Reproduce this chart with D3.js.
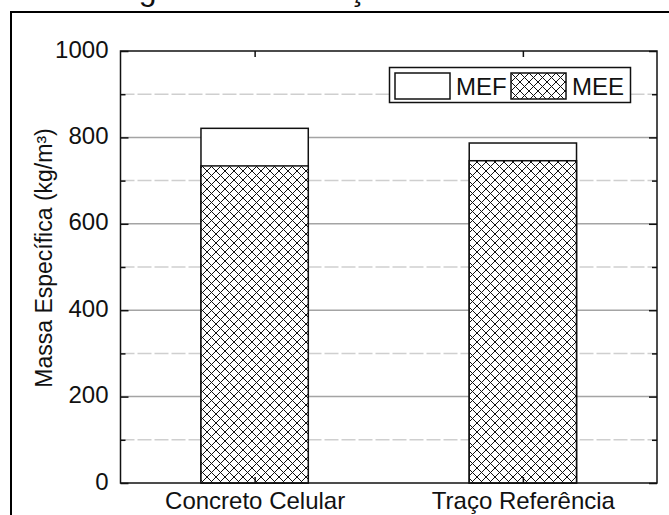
<!DOCTYPE html>
<html>
<head>
<meta charset="utf-8">
<script src="https://cdn.jsdelivr.net/npm/d3@7"></script>
<style>
  html, body { margin: 0; padding: 0; background: #fff; }
  svg { display: block; }
  text { font-family: "Liberation Sans", Arial, sans-serif; fill: #111; }
</style>
</head>
<body>
<svg id="chart" width="669" height="515"></svg>
<script>
// Data: density (kg/m³) per mix
const categories = ["Concreto Celular", "Traço Referência"];
const mefValues = [821, 787];   // massa específica fresca
const meeValues = [734, 746];   // massa específica endurecida
const yTicks = [0, 200, 400, 600, 800, 1000];
const yMinorTicks = [100, 300, 500, 700, 900];
const legendLabels = ["MEF", "MEE"];
const yTitle = "Massa Específica (kg/m³)";
const figureTitle = "Figura 15 – Relação MEF × MEE";

(function () {
  const svg = d3.select("#chart");
  const plotLeft = 120.5, plotRight = 657, plotTop = 51, plotBottom = 483;

  const x = d3.scaleLinear().domain([0.5, 2.5]).range([plotLeft, plotRight]);
  const y = d3.scaleLinear().domain([0, 1000]).range([plotBottom, plotTop]);
  const barHalf = 0.2;

  // Cross-hatch pattern for the MEE bars
  const defs = svg.append("defs");
  const pat = defs.append("pattern")
    .attr("id", "hatch").attr("patternUnits", "userSpaceOnUse")
    .attr("width", 9).attr("height", 9);
  pat.append("rect").attr("width", 9).attr("height", 9).attr("fill", "#fff");
  pat.append("path").attr("d", "M0,0L9,9M9,0L0,9M-1,8L1,10M8,-1L10,1M-1,1L1,-1M8,10L10,8")
    .attr("stroke", "#111").attr("stroke-width", 1);

  // Figure caption (sits above the frame)
  svg.append("text").attr("x", 112).attr("y", -0.5)
    .attr("font-size", 32).text(figureTitle);

  // Outer frame
  svg.append("path").attr("d", "M11,530V12H680")
    .attr("fill", "none").attr("stroke", "#000").attr("stroke-width", 2);

  // Gridlines
  svg.append("g").selectAll("line").data(yTicks.filter(v => v > 0 && v < 1000))
    .join("line")
    .attr("x1", plotLeft).attr("x2", plotRight).attr("y1", d => y(d)).attr("y2", d => y(d))
    .attr("stroke", "#a4a4a4").attr("stroke-width", 1.5);
  svg.append("g").selectAll("line").data(yMinorTicks)
    .join("line")
    .attr("x1", plotLeft).attr("x2", plotRight).attr("y1", d => y(d)).attr("y2", d => y(d))
    .attr("stroke", "#cfcfcf").attr("stroke-width", 1.5).attr("stroke-dasharray", "14,3");

  // Bars: MEF behind, MEE in front
  const bars = svg.append("g");
  bars.selectAll("rect.mef").data(mefValues).join("rect").attr("class", "mef")
    .attr("x", (d, i) => x(i + 1 - barHalf))
    .attr("width", (d, i) => x(i + 1 + barHalf) - x(i + 1 - barHalf))
    .attr("y", d => y(d)).attr("height", d => y(0) - y(d))
    .attr("fill", "#fff").attr("stroke", "#111").attr("stroke-width", 1.5);
  bars.selectAll("rect.mee").data(meeValues).join("rect").attr("class", "mee")
    .attr("x", (d, i) => x(i + 1 - barHalf))
    .attr("width", (d, i) => x(i + 1 + barHalf) - x(i + 1 - barHalf))
    .attr("y", d => y(d)).attr("height", d => y(0) - y(d))
    .attr("fill", "url(#hatch)").attr("stroke", "#111").attr("stroke-width", 1.5);

  // Axes: inward ticks on all four sides
  function styleAxis(g) {
    g.select(".domain").remove();
    g.selectAll(".tick line").attr("stroke", "#111").attr("stroke-width", 1.5);
    g.selectAll(".tick text").remove();
  }
  svg.append("g").attr("transform", `translate(${plotLeft},0)`)
    .call(d3.axisRight(y).tickValues(yTicks).tickSize(8)).call(styleAxis);
  svg.append("g").attr("transform", `translate(${plotLeft},0)`)
    .call(d3.axisRight(y).tickValues(yMinorTicks).tickSize(5)).call(styleAxis);
  svg.append("g").attr("transform", `translate(${plotRight},0)`)
    .call(d3.axisLeft(y).tickValues(yTicks).tickSize(8)).call(styleAxis);
  svg.append("g").attr("transform", `translate(${plotRight},0)`)
    .call(d3.axisLeft(y).tickValues(yMinorTicks).tickSize(5)).call(styleAxis);
  svg.append("g").attr("transform", `translate(0,${plotTop})`)
    .call(d3.axisBottom(x).tickValues([1, 2]).tickSize(6)).call(styleAxis);
  svg.append("g").attr("transform", `translate(0,${plotBottom})`)
    .call(d3.axisTop(x).tickValues([1, 2]).tickSize(6)).call(styleAxis);

  // Y tick labels
  const yl = svg.append("g").attr("transform", `translate(${plotLeft},0)`)
    .call(d3.axisLeft(y).tickValues(yTicks).tickSize(0).tickPadding(12)
      .tickFormat(d3.format("d")));
  yl.select(".domain").remove();
  yl.selectAll(".tick text").attr("font-size", 24).attr("fill", "#111")
    .attr("font-family", "Liberation Sans, Arial, sans-serif").attr("dy", "0.25em");

  // X category labels
  const xl = svg.append("g").attr("transform", `translate(0,${plotBottom})`)
    .call(d3.axisBottom(x).tickValues([1, 2]).tickSize(0).tickPadding(9)
      .tickFormat(d => categories[d - 1]));
  xl.select(".domain").remove();
  xl.selectAll(".tick text").attr("font-size", 24).attr("fill", "#111")
    .attr("font-family", "Liberation Sans, Arial, sans-serif");

  // Plot frame
  svg.append("rect").attr("x", plotLeft).attr("y", plotTop)
    .attr("width", plotRight - plotLeft).attr("height", plotBottom - plotTop)
    .attr("fill", "none").attr("stroke", "#111").attr("stroke-width", 1.5);

  // Y axis title
  svg.append("text")
    .attr("transform", `translate(52,${(plotTop + plotBottom) / 2 - 9}) rotate(-90)`)
    .attr("text-anchor", "middle").attr("font-size", 23).text(yTitle);

  // Legend
  const legend = svg.append("g");
  legend.append("rect").attr("x", 389.5).attr("y", 67.5).attr("width", 241).attr("height", 35)
    .attr("fill", "#fff").attr("stroke", "#111").attr("stroke-width", 1.5);
  const entries = legend.selectAll("g.entry").data(legendLabels).join("g")
    .attr("class", "entry")
    .attr("transform", (d, i) => `translate(${395 + i * 116},73)`);
  entries.append("rect").attr("width", 55).attr("height", 26)
    .attr("fill", (d, i) => i === 0 ? "#fff" : "url(#hatch)")
    .attr("stroke", "#111").attr("stroke-width", 1.5);
  entries.append("text").attr("x", 61).attr("y", 22).attr("font-size", 24).text(d => d);
})();
</script>
</body>
</html>
